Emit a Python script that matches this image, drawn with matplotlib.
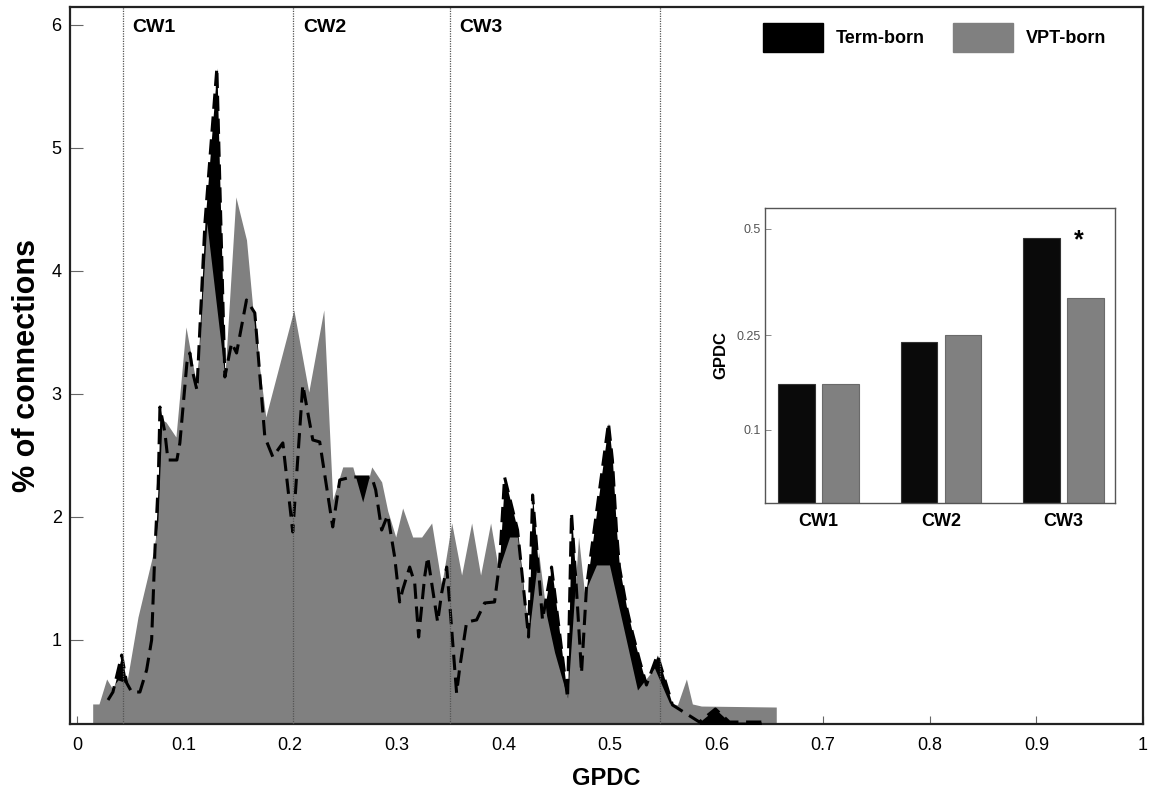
import numpy as np
import matplotlib
matplotlib.use("Agg")
import matplotlib.pyplot as plt
from matplotlib.patches import Patch

# ---------------- data ----------------
vpt_x = [0.0147, 0.0206, 0.0278, 0.0328, 0.0384, 0.0466, 0.0572, 0.0722, 0.0759, 0.0797,
         0.0834, 0.0928, 0.1022, 0.1125, 0.1218, 0.1387, 0.1490, 0.1590, 0.1668, 0.1771,
         0.2034, 0.2174, 0.2315, 0.2399, 0.2493, 0.2587, 0.2680, 0.2765, 0.2858, 0.2915,
         0.2990, 0.3055, 0.3149, 0.3233, 0.3327, 0.3421, 0.3515, 0.3608, 0.3702, 0.3786,
         0.3880, 0.3955, 0.4058, 0.4133, 0.4236, 0.4330, 0.4405, 0.4480, 0.4602, 0.4705,
         0.4761, 0.4873, 0.4995, 0.5258, 0.5417, 0.5558, 0.5633, 0.5717, 0.5773, 0.5857,
         0.6560]
vpt_y = [0.480, 0.480, 0.683, 0.610, 0.675, 0.650, 1.187, 1.732, 1.976, 2.789,
         2.772, 2.650, 3.545, 3.057, 4.390, 3.138, 4.602, 4.252, 3.520, 2.813,
         3.683, 3.016, 3.683, 2.138, 2.407, 2.407, 2.122, 2.407, 2.285, 2.049,
         1.837, 2.073, 1.837, 1.837, 1.951, 1.447, 1.951, 1.528, 1.951, 1.528,
         1.951, 1.569, 1.837, 1.837, 1.024, 1.715, 1.200, 0.900, 0.528, 1.837,
         1.382, 1.610, 1.610, 0.593, 0.772, 0.488, 0.472, 0.683, 0.480, 0.463,
         0.455]

term_x = [0.0291, 0.0337, 0.0419, 0.0466, 0.0513, 0.0590, 0.0653, 0.0700, 0.0731, 0.0762,
          0.0778, 0.0825, 0.0853, 0.0937, 0.0965, 0.1031, 0.1059, 0.1087, 0.1125, 0.1200,
          0.1312, 0.1387, 0.1450, 0.1497, 0.1590, 0.1668, 0.1762, 0.1837, 0.1931, 0.2024,
          0.2118, 0.2212, 0.2277, 0.2399, 0.2465, 0.2577, 0.2765, 0.2802, 0.2858, 0.2915,
          0.2980, 0.3027, 0.3055, 0.3121, 0.3168, 0.3205, 0.3261, 0.3290, 0.3383, 0.3421,
          0.3468, 0.3496, 0.3561, 0.3590, 0.3655, 0.3749, 0.3824, 0.3917, 0.3964, 0.4011,
          0.4133, 0.4236, 0.4274, 0.4367, 0.4452, 0.4602, 0.4639, 0.4686, 0.4733, 0.4780,
          0.4986, 0.5023, 0.5061, 0.5089, 0.5155, 0.5211, 0.5277, 0.5342, 0.5445, 0.5586,
          0.5839, 0.5989, 0.6120, 0.6420]
term_y = [0.512, 0.577, 0.878, 0.650, 0.577, 0.577, 0.756, 1.000, 1.732, 2.276,
          2.894, 2.683, 2.463, 2.463, 2.602, 3.252, 3.333, 3.171, 3.033, 4.390,
          5.650, 3.138, 3.415, 3.333, 3.764, 3.659, 2.650, 2.488, 2.602, 1.878,
          3.073, 2.626, 2.610, 1.919, 2.301, 2.325, 2.325, 2.220, 1.894, 2.016,
          1.675, 1.309, 1.407, 1.593, 1.463, 1.024, 1.512, 1.675, 1.146, 1.382,
          1.593, 1.301, 0.569, 0.772, 1.146, 1.163, 1.301, 1.309, 1.626, 2.325,
          1.894, 1.024, 2.179, 1.163, 1.593, 0.528, 2.033, 1.407, 0.732, 1.431,
          2.764, 2.463, 1.894, 1.593, 1.268, 1.057, 0.837, 0.634, 0.878, 0.472,
          0.333, 0.439, 0.333, 0.333]

window_edges = [0.043, 0.203, 0.350, 0.547]
window_labels = ["CW1", "CW2", "CW3"]

groups = ["CW1", "CW2", "CW3"]
term_bar = [0.165, 0.237, 0.475]
vpt_bar = [0.165, 0.250, 0.327]

series_names = ["Term-born", "VPT-born"]

# ---------------- style ----------------
plt.rcParams['font.family'] = ['Liberation Sans', 'DejaVu Sans']
GRAY = '#808080'
BASE = 0.317
TICKFONT = ['Liberation Sans Narrow', 'Liberation Sans', 'DejaVu Sans']

fig = plt.figure(figsize=(11.51, 7.91), dpi=100)
ax = fig.add_axes([0.0608, 0.0847, 0.9322, 0.9065])

tx = np.array(term_x); ty = np.array(term_y)
vx = np.array(vpt_x); vy = np.array(vpt_y)

ax.fill_between(tx, ty, 0, color='black', lw=0, zorder=1)
ax.fill_between(vx, vy, 0, color=GRAY, lw=0, zorder=2)
ax.plot(tx, ty, color='black', lw=2.2, ls=(0, (5, 2.5)), zorder=3)
ax.fill_between(tx, ty, 0, where=tx >= 0.58, color='black', lw=0, zorder=3)

for e in window_edges:
    ax.axvline(e, color='#555555', lw=0.9, ls=(0, (1, 1)), zorder=4)
for lab, e in zip(window_labels, window_edges[:3]):
    ax.text(e + 0.009, 5.98, lab, fontsize=14, fontweight='bold', ha='left', va='center')

ax.set_xlim(-0.0066, 1.0)
ax.set_ylim(BASE, 6.146)
ax.set_xticks(np.round(np.arange(0, 1.01, 0.1), 1))
ax.set_xticklabels(['0'] + [f"{v:.1f}" for v in np.arange(0.1, 0.95, 0.1)] + ['1'],
                   family=TICKFONT, fontsize=13)
ax.set_yticks([1, 2, 3, 4, 5, 6])
ax.set_yticklabels(['1', '2', '3', '4', '5', '6'], family=TICKFONT, fontsize=13)
ax.tick_params(axis='x', direction='in', length=6, width=0.8, color='#666666', pad=9)
ax.tick_params(axis='y', direction='in', length=9, width=0.8, color='#666666', pad=6)
for s in ax.spines.values():
    s.set_linewidth(1.6)
    s.set_color('#222222')

ax.set_xlabel("GPDC", fontsize=17, fontweight='bold', labelpad=10)
ax.set_ylabel("% of connections", fontsize=22, fontweight='bold', labelpad=7)

handles = [Patch(facecolor='black', edgecolor='black'), Patch(facecolor=GRAY, edgecolor=GRAY)]
ax.legend(handles, series_names, loc='upper left', bbox_to_anchor=(0.646, 0.978), ncol=2,
          frameon=False, handlelength=3.33, handleheight=2.1, handletextpad=0.67,
          columnspacing=1.6, borderpad=0, borderaxespad=0,
          prop={'weight': 'bold', 'size': 13})

# ---------------- inset ----------------
ins = fig.add_axes([0.6646, 0.3641, 0.3041, 0.3729])
ins.set_yscale('function', functions=(lambda v: np.sqrt(np.clip(v, 0, None)), lambda v: np.square(v)))
pos = np.arange(1, len(groups) + 1)
ins.bar(pos - 0.18, term_bar, width=0.30, color='#0a0a0a', edgecolor='#333333', lw=0.8)
ins.bar(pos + 0.18, vpt_bar, width=0.30, color=GRAY, edgecolor='#6a6a6a', lw=0.8)
ins.set_xlim(0.561, 3.422)
ins.set_ylim(0.0304, 0.5586)
ins.set_yticks([0.1, 0.25, 0.5])
ins.set_yticklabels(['0.1', '0.25', '0.5'], fontsize=9, color='#555555')
ins.yaxis.set_minor_locator(matplotlib.ticker.NullLocator())
ins.set_xticks(pos)
ins.set_xticklabels(groups, fontsize=13, fontweight='bold')
ins.tick_params(axis='x', length=0, pad=7)
ins.tick_params(axis='y', direction='in', length=4, width=0.6, color='#777777', pad=3)
ins.set_ylabel("GPDC", fontsize=12, fontweight='bold', labelpad=6)
for s in ins.spines.values():
    s.set_linewidth(1.0)
    s.set_color('#555555')
ins.text(3.127, 0.47, "*", fontsize=18, fontweight='bold', ha='center', va='center')

fig.savefig("out.png", dpi=100)
